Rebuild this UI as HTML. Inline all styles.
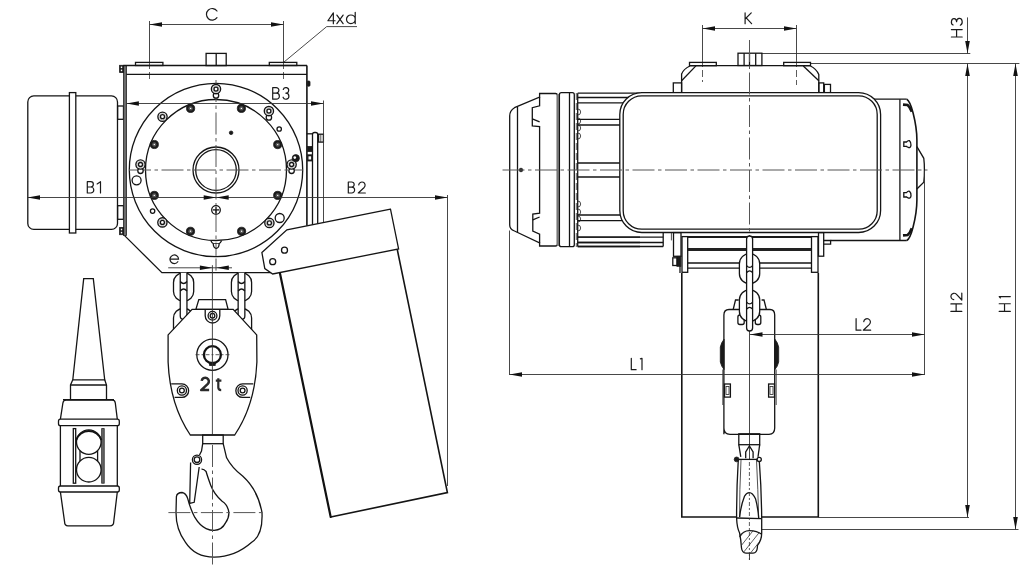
<!DOCTYPE html>
<html><head><meta charset="utf-8"><style>
html,body{margin:0;padding:0;background:#fff;}
svg{display:block;}
text{font-family:"Liberation Sans",sans-serif;fill:#1a1a1a;}
.o{stroke:#141414;stroke-width:1.3;fill:none;}
.of{stroke:#141414;stroke-width:1.3;fill:#fff;}
.o2{stroke:#141414;stroke-width:1.6;fill:none;}
.d{stroke:#333;stroke-width:0.9;fill:none;}
.c{stroke:#555;stroke-width:1;fill:none;stroke-dasharray:22 3.5 3.5 3.5;}
.c2{stroke:#333;stroke-width:0.8;fill:none;stroke-dasharray:7 3;}
.n{stroke:none;}
.gl{fill:none;stroke:#1a1a1a;stroke-width:1.2;vector-effect:non-scaling-stroke;stroke-linecap:round;stroke-linejoin:round;}
.gl2{fill:none;stroke:#1a1a1a;stroke-width:1.2;stroke-linecap:round;}
.fg2{stroke:#777;stroke-width:2;fill:none;}
.bt{fill:#444;stroke:#111;stroke-width:0.7;}
.c3{stroke:#333;stroke-width:0.8;fill:none;stroke-dasharray:4 2 2 2;}
.ofw{fill:#fff;stroke:#141414;stroke-width:1.4;}
.ofk{fill:#fff;stroke:#141414;stroke-width:1.3;}
.fk{fill:#1a1a1a;stroke:#1a1a1a;stroke-width:0.8;}
.fw{fill:#fff;stroke:none;}
.fg{fill:#6a6a6a;stroke:#222;stroke-width:0.8;}
.t{stroke:#222;stroke-width:0.8;fill:none;}
.ah{fill:#111;stroke:none;}
</style></head><body>
<svg width="1036" height="570" viewBox="0 0 1036 570">
<defs><clipPath id="hc"><path d="M739.6,536.8 Q743,530.6 749.4,530.6 Q757,530.6 761.7,534.3 L761.7,535 Q760,540 757.5,545.4 L757.3,548 Q757,552.7 753,553.2 L746,553.2 Q742,552.7 741.5,548 Q741,540 739.6,536.8 Z"/></clipPath></defs><rect width="1036" height="570" fill="#fff"/>
<line class="d" x1="149.5" y1="24.5" x2="283.5" y2="24.5"/>
<polygon class="ah" points="149.5,24.5 162.0,22.2 162.0,26.8"/>
<polygon class="ah" points="283.5,24.5 271.0,26.8 271.0,22.2"/>
<line class="d" x1="149.5" y1="21.0" x2="149.5" y2="62.0"/>
<line class="d" x1="283.5" y1="21.0" x2="283.5" y2="62.0"/>
<line class="c2" x1="149.5" y1="62.0" x2="149.5" y2="82.0"/>
<line class="c2" x1="283.5" y1="62.0" x2="283.5" y2="82.0"/>
<path class="gl2" d="M217.0,11.0 A5.8,5.85 0 1 0 217.0,17.7" />
<line class="d" x1="326.7" y1="26.6" x2="357.0" y2="26.6"/>
<line class="d" x1="326.7" y1="26.6" x2="283.6" y2="62.4"/>
<path class="gl" transform="translate(327.90,23.70) scale(10.9)" d="M0.5,0 L0.5,-1 L0,-0.27 L0.66,-0.27"/>
<path class="gl" transform="translate(336.90,23.70) scale(10.9)" d="M0,-0.79 L0.57,0 M0.57,-0.79 L0,0"/>
<path class="gl" transform="translate(346.50,23.70) scale(10.9)" d="M0.8,-1.05 L0.8,0 M0.8,-0.4 A0.4,0.4 0 1 0 0,-0.4 A0.4,0.4 0 1 0 0.8,-0.4"/>
<rect class="o" x="27.8" y="95.9" width="89.7" height="133.5" rx="6" />
<rect class="of" x="69.4" y="92.6" width="6.4" height="140.4" rx="0" />
<rect class="o" x="117.6" y="106.0" width="5.9" height="13.3" rx="0" />
<rect class="o" x="117.6" y="205.7" width="5.9" height="13.6" rx="0" />
<rect class="fg" x="123.5" y="65.5" width="3.0" height="170.0" rx="0" />
<rect class="fk" x="119.6" y="65.3" width="4.0" height="7.2" rx="0" />
<rect class="fw" x="120.8" y="66.5" width="1.4" height="1.6" rx="0" />
<rect class="fw" x="120.8" y="69.6" width="1.4" height="1.6" rx="0" />
<rect class="fk" x="119.6" y="227.5" width="4.0" height="7.2" rx="0" />
<rect class="fw" x="120.8" y="228.7" width="1.4" height="1.6" rx="0" />
<rect class="fw" x="120.8" y="231.8" width="1.4" height="1.6" rx="0" />
<line class="o" x1="123.5" y1="65.5" x2="307.0" y2="65.5"/>
<line class="o" x1="126.4" y1="74.4" x2="307.0" y2="74.4"/>
<line class="o2" x1="306.9" y1="65.5" x2="306.9" y2="225.8"/>
<rect class="o" x="135.5" y="62.4" width="27.4" height="3.1" rx="0" />
<rect class="o" x="269.3" y="62.4" width="27.5" height="3.1" rx="0" />
<rect class="o" x="206.1" y="53.4" width="20.1" height="12.2" rx="0" />
<line class="o" x1="216.2" y1="53.4" x2="216.2" y2="65.5"/>
<polyline class="o" points="124.6,235.6 161.9,272.7 272.7,272.7"/>
<path class="o" d="M312.5,225.2 L312.5,134.5 Q312.5,132.5 314.5,132.5 L315.7,132.5 Q317.7,132.5 317.7,134.5 L317.7,224.2" />
<line class="o" x1="306.8" y1="133.8" x2="312.5" y2="133.8"/>
<rect class="fk" x="307.2" y="81.0" width="2.8" height="5.2" rx="1" />
<rect class="o" x="318.6" y="134.2" width="4.8" height="7.9" rx="0" />
<line class="t" x1="320.8" y1="134.2" x2="320.8" y2="142.1"/>
<rect class="fk" x="307.5" y="146.5" width="4.5" height="5.0" rx="0" />
<rect class="fk" x="307.5" y="154.8" width="4.5" height="6.2" rx="0" />
<rect class="fw" x="308.5" y="156.3" width="2.6" height="3.2" rx="0" />
<circle class="o" cx="216.0" cy="170.0" r="86.7" />
<circle class="o" cx="216.0" cy="170.0" r="70.5" />
<circle class="o" cx="216.0" cy="170.0" r="23.0" />
<circle class="o" cx="216.0" cy="170.0" r="20.3" />
<line class="c" x1="216.0" y1="80.0" x2="216.0" y2="256.0"/>
<line class="d" x1="216.0" y1="258.5" x2="216.0" y2="270.6"/>
<line class="c" x1="129.0" y1="170.0" x2="303.0" y2="170.0"/>
<circle class="fk" cx="190.6" cy="108.4" r="4.1" />
<circle class="n" cx="190.6" cy="108.4" r="2.2" style="fill:#555"/>
<circle class="fw" cx="190.6" cy="108.4" r="0.7" />
<circle class="fk" cx="241.4" cy="108.4" r="4.1" />
<circle class="n" cx="241.4" cy="108.4" r="2.2" style="fill:#555"/>
<circle class="fw" cx="241.4" cy="108.4" r="0.7" />
<circle class="fk" cx="154.3" cy="144.5" r="4.1" />
<circle class="n" cx="154.3" cy="144.5" r="2.2" style="fill:#555"/>
<circle class="fw" cx="154.3" cy="144.5" r="0.7" />
<circle class="fk" cx="277.7" cy="144.6" r="4.1" />
<circle class="n" cx="277.7" cy="144.6" r="2.2" style="fill:#555"/>
<circle class="fw" cx="277.7" cy="144.6" r="0.7" />
<circle class="fk" cx="154.3" cy="195.4" r="4.1" />
<circle class="n" cx="154.3" cy="195.4" r="2.2" style="fill:#555"/>
<circle class="fw" cx="154.3" cy="195.4" r="0.7" />
<circle class="fk" cx="277.7" cy="195.4" r="4.1" />
<circle class="n" cx="277.7" cy="195.4" r="2.2" style="fill:#555"/>
<circle class="fw" cx="277.7" cy="195.4" r="0.7" />
<circle class="fk" cx="190.5" cy="231.3" r="4.1" />
<circle class="n" cx="190.5" cy="231.3" r="2.2" style="fill:#555"/>
<circle class="fw" cx="190.5" cy="231.3" r="0.7" />
<circle class="fk" cx="241.6" cy="231.3" r="4.1" />
<circle class="n" cx="241.6" cy="231.3" r="2.2" style="fill:#555"/>
<circle class="fw" cx="241.6" cy="231.3" r="0.7" />
<circle class="ofw" cx="162.5" cy="116.7" r="4.6" />
<circle class="n" cx="162.5" cy="116.7" r="3.2" style="fill:none;stroke:#bbb;stroke-width:1"/>
<circle class="o" cx="162.5" cy="116.7" r="2.0" />
<circle class="ofw" cx="162.4" cy="222.4" r="4.6" />
<circle class="n" cx="162.4" cy="222.4" r="3.2" style="fill:none;stroke:#bbb;stroke-width:1"/>
<circle class="o" cx="162.4" cy="222.4" r="2.0" />
<circle class="ofw" cx="269.4" cy="222.9" r="4.6" />
<circle class="n" cx="269.4" cy="222.9" r="3.2" style="fill:none;stroke:#bbb;stroke-width:1"/>
<circle class="o" cx="269.4" cy="222.9" r="2.0" />
<circle class="ofk" cx="216.0" cy="95.4" r="2.7" />
<circle class="ofw" cx="216.0" cy="89.1" r="4.6" />
<circle class="n" cx="216.0" cy="89.1" r="3.2" style="fill:none;stroke:#bbb;stroke-width:1"/>
<circle class="o" cx="216.0" cy="89.1" r="2.0" />
<circle class="ofk" cx="268.9" cy="117.4" r="2.7" />
<circle class="ofw" cx="268.9" cy="111.1" r="4.6" />
<circle class="n" cx="268.9" cy="111.1" r="3.2" style="fill:none;stroke:#bbb;stroke-width:1"/>
<circle class="o" cx="268.9" cy="111.1" r="2.0" />
<circle class="ofk" cx="140.5" cy="170.8" r="2.7" />
<circle class="ofw" cx="140.5" cy="164.5" r="4.6" />
<circle class="n" cx="140.5" cy="164.5" r="3.2" style="fill:none;stroke:#bbb;stroke-width:1"/>
<circle class="o" cx="140.5" cy="164.5" r="2.0" />
<circle class="ofk" cx="291.6" cy="170.8" r="2.7" />
<circle class="ofw" cx="291.6" cy="164.5" r="4.6" />
<circle class="n" cx="291.6" cy="164.5" r="3.2" style="fill:none;stroke:#bbb;stroke-width:1"/>
<circle class="o" cx="291.6" cy="164.5" r="2.0" />
<circle class="fk" cx="295.8" cy="158.2" r="3.6" />
<circle class="fw" cx="294.8" cy="157.6" r="1.3" />
<path class="o" d="M210.8,240.4 Q212,243 213.2,243.5 Q213.5,248.3 216.2,248.3 Q218.9,248.3 219.2,243.5 Q220.4,243 221.6,240.4" />
<line class="t" x1="213.3" y1="243.5" x2="219.1" y2="243.5"/>
<circle class="o" cx="136.6" cy="180.3" r="4.5" />
<circle class="o" cx="279.7" cy="218.0" r="4.5" />
<circle class="o" cx="279.2" cy="129.0" r="2.2" />
<circle class="o" cx="152.6" cy="211.1" r="2.2" />
<circle class="fk" cx="231.1" cy="132.8" r="1.8" />
<circle class="o" cx="216.0" cy="209.9" r="4.3" />
<line class="o" x1="213.0" y1="209.9" x2="219.0" y2="209.9"/>
<line class="o" x1="216.0" y1="206.9" x2="216.0" y2="212.9"/>
<line class="d" x1="126.4" y1="103.5" x2="323.5" y2="103.5"/>
<polygon class="ah" points="126.4,103.5 138.9,101.2 138.9,105.8"/>
<polygon class="ah" points="323.5,103.5 311.0,105.8 311.0,101.2"/>
<line class="d" x1="323.5" y1="100.5" x2="323.5" y2="223.0"/>
<path class="gl" transform="translate(272.70,99.20) scale(11.6)" d="M0,0 L0,-1 L0.3,-1 A0.235,0.235 0 0 1 0.3,-0.53 L0,-0.53 M0.3,-0.53 L0.31,-0.53 A0.265,0.265 0 0 1 0.31,0 L0,0"/>
<path class="gl" transform="translate(282.40,99.20) scale(11.6)" d="M0.075,-0.842 A0.24,0.24 0 1 1 0.3,-0.52 A0.26,0.26 0 1 1 0.056,-0.171"/>
<line class="d" x1="27.5" y1="197.5" x2="447.5" y2="197.5"/>
<polygon class="ah" points="27.5,197.5 40.0,195.2 40.0,199.8"/>
<polygon class="ah" points="216.2,197.5 203.7,199.8 203.7,195.2"/>
<polygon class="ah" points="216.2,197.5 228.7,195.2 228.7,199.8"/>
<polygon class="ah" points="447.5,197.5 435.0,199.8 435.0,195.2"/>
<line class="d" x1="447.5" y1="195.0" x2="447.5" y2="486.0"/>
<path class="gl" transform="translate(87.30,193.00) scale(11.3)" d="M0,0 L0,-1 L0.3,-1 A0.235,0.235 0 0 1 0.3,-0.53 L0,-0.53 M0.3,-0.53 L0.31,-0.53 A0.265,0.265 0 0 1 0.31,0 L0,0"/>
<path class="gl" transform="translate(100.50,193.00) scale(11.3)" d="M0,0 L0,-1 L-0.3,-0.8"/>
<path class="gl" transform="translate(348.30,193.00) scale(11)" d="M0,0 L0,-1 L0.3,-1 A0.235,0.235 0 0 1 0.3,-0.53 L0,-0.53 M0.3,-0.53 L0.31,-0.53 A0.265,0.265 0 0 1 0.31,0 L0,0"/>
<path class="gl" transform="translate(358.30,193.00) scale(11)" d="M0.04,-0.74 A0.29,0.29 0 1 1 0.535,-0.505 L0,0 L0.64,0"/>
<line class="d" x1="168.2" y1="267.8" x2="232.0" y2="267.8"/>
<polygon class="ah" points="212.4,267.8 199.9,270.1 199.9,265.5"/>
<polygon class="ah" points="216.3,267.8 228.8,265.5 228.8,270.1"/>
<path class="gl" transform="translate(169.90,263.60) scale(11)" d="M0.01,-0.4 L0.79,-0.4 A0.39,0.39 0 1 0 0.72,-0.17"/>
<polyline class="o2" points="330.7,517.0 447.4,492.6 397.2,249.2"/>
<line x1="280" y1="273.5" x2="330.7" y2="517" stroke="#111" stroke-width="2.2" stroke-linecap="round"/>
<polygon class="of" points="390.5,209.2 286.9,229.8 261.9,252.6 264.8,268.6 272.7,274.0 398.6,248.9"/>
<circle class="o" cx="284.5" cy="250.2" r="3.0" />
<circle class="o" cx="272.7" cy="261.7" r="3.0" />
<rect class="of" x="173.5" y="308.5" width="20.2" height="30.0" rx="9.5" />
<rect class="of" x="173.5" y="272.9" width="20.2" height="28.2" rx="9.5" />
<path class="of" d="M180.25,272.7 L180.25,316 A3.35,3.35 0 0 0 186.95,316 L186.95,272.7" />
<path class="o" d="M180.25,281.5 Q183.6,285.5 186.95,281.5 M180.25,291 Q183.6,287 186.95,291" />
<rect class="of" x="231.4" y="308.5" width="20.2" height="30.0" rx="9.5" />
<rect class="of" x="231.4" y="272.9" width="20.2" height="28.2" rx="9.5" />
<path class="of" d="M238.15,272.7 L238.15,316 A3.35,3.35 0 0 0 244.85,316 L244.85,272.7" />
<path class="o" d="M238.15,281.5 Q241.5,285.5 244.85,281.5 M238.15,291 Q241.5,287 244.85,291" />
<polygon class="of" points="198.8,299.6 225.6,299.6 228.1,309.4 195.9,309.4"/>
<path class="of" d="M192.1,309.4 L233.2,309.4 L256.7,334.9 L256.9,362 Q255,405 234.7,435 L190.3,435 Q170,405 168.1,362 L168.1,334.9 Z" />
<path class="o" d="M205.2,309.4 L205.2,315.7 A7.3,7.3 0 0 0 219.8,315.7 L219.8,309.4" />
<circle class="o" cx="212.5" cy="315.7" r="4.4" />
<circle class="o" cx="212.5" cy="315.7" r="2.3" />
<circle class="o" cx="212.4" cy="354.7" r="15.6" />
<circle cx="212.4" cy="354.7" r="8.5" fill="none" stroke="#111" stroke-width="2.3"/>
<rect class="fk" x="209.6" y="362.3" width="5.6" height="3.2" rx="0" />
<line class="c3" x1="195.5" y1="354.7" x2="229.5" y2="354.7"/>
<path class="o" d="M171.2,383.9 L181.9,383.9 A6.75,6.75 0 0 1 181.9,397.4 L174.6,397.4" />
<path class="o" d="M253.3,383.9 L242.6,383.9 A6.75,6.75 0 0 0 242.6,397.4 L250.2,397.4" />
<circle class="o" cx="181.9" cy="390.5" r="4.6" />
<circle class="o" cx="181.9" cy="390.5" r="2.4" />
<circle class="o" cx="242.6" cy="390.5" r="4.6" />
<circle class="o" cx="242.6" cy="390.5" r="2.4" />
<path transform="translate(201.2,390.1) scale(12.4)" d="M0.04,-0.74 A0.29,0.29 0 1 1 0.535,-0.505 L0,0 L0.64,0" style="fill:none;stroke:#2a2a2a;stroke-width:2.5;vector-effect:non-scaling-stroke;stroke-linejoin:round"/>
<path d="M218.3,378.2 L218.3,387.6 Q218.3,390.1 221.2,390.1 M215.8,380.6 L221.4,380.6" style="fill:none;stroke:#2a2a2a;stroke-width:2.2"/>
<line class="d" x1="212.4" y1="265.2" x2="212.4" y2="435.0"/>
<rect class="o" x="202.7" y="435.0" width="20.5" height="8.7" rx="0" />
<path class="o" d="M223.2,443.7 L226.6,457.8 Q232,468 242.6,476.1 Q258,490 262,512.6 Q263,535 251.7,542.3 Q235,557.1 214.1,557.1 Q195,557 185.5,542.3 Q176,530 176,512.6 L176.4,496.6 Q177,492.5 182.1,492.5 Q186,493 187.8,498.9 Q190,508 194.7,517.2 Q200,526 206.1,528.6 Q210,530.4 214.1,530.4 Q222,530 225.5,522.9 Q229,518 228.9,512.6 Q228,505 222.1,501.2 Q214,494 210.7,485.2 Q207,475 206.1,471.5 Q204,469 201.5,469.2" />
<path class="o" d="M202.7,443.7 L201.5,451 L199.5,455" />
<polyline class="o" points="190.6,462.4 189.7,503.5 194.2,502.3 199.2,467.0"/>
<circle class="of" cx="197.0" cy="459.7" r="4.6" />
<circle class="o" cx="197.0" cy="459.7" r="2.8" />
<line class="c" x1="212.5" y1="445.0" x2="212.5" y2="566.0"/>
<line class="c" x1="168.4" y1="512.6" x2="265.4" y2="512.6"/>
<polygon class="o" points="83.7,278.7 93.3,278.7 104.7,379.8 72.8,379.8"/>
<polyline class="o" points="72.8,379.8 70.5,385.0 70.5,399.6"/>
<polyline class="o" points="104.7,379.8 106.5,385.0 106.5,399.6"/>
<line class="o" x1="70.5" y1="385.0" x2="106.5" y2="385.0"/>
<path class="o" d="M60.4,419.2 L62.9,403 Q63.3,400.2 66,400.2 L112.3,400.2 Q115,400.2 115.3,403 L117.3,419.2" />
<line class="o" x1="63.0" y1="399.6" x2="114.0" y2="399.6"/>
<rect class="o" x="58.5" y="419.2" width="60.8" height="6.5" rx="2" />
<line class="o" x1="60.4" y1="425.7" x2="60.4" y2="486.0"/>
<line class="o" x1="117.3" y1="425.7" x2="117.3" y2="486.0"/>
<rect class="o" x="58.5" y="486.0" width="60.8" height="6.0" rx="2" />
<path class="o" d="M60.4,492 L64.6,522 Q64.6,525.8 68,525.8 L110,525.8 Q113.7,525.8 113.7,522 L117.3,492" />
<rect class="o" x="73.3" y="428.6" width="2.4" height="54.6" rx="0" />
<rect class="fg" x="101.7" y="428.6" width="2.5" height="54.6" rx="0" />
<circle class="o" cx="88.8" cy="442.1" r="12.3" />
<circle class="o" cx="88.8" cy="469.7" r="12.3" />
<path class="o" d="M76.2,440 A13.3,13.3 0 0 1 101.4,440" style="stroke-width:2"/>
<line class="o" x1="80.0" y1="450.7" x2="80.0" y2="461.1"/>
<line class="o" x1="97.6" y1="450.7" x2="97.6" y2="461.1"/>
<line class="d" x1="702.5" y1="28.5" x2="796.5" y2="28.5"/>
<polygon class="ah" points="702.5,28.5 715.0,26.2 715.0,30.8"/>
<polygon class="ah" points="796.5,28.5 784.0,30.8 784.0,26.2"/>
<line class="d" x1="702.5" y1="25.0" x2="702.5" y2="60.0"/>
<line class="d" x1="796.5" y1="25.0" x2="796.5" y2="60.0"/>
<line class="c2" x1="702.5" y1="60.0" x2="702.5" y2="82.0"/>
<line class="c2" x1="796.5" y1="60.0" x2="796.5" y2="85.0"/>
<path class="gl" transform="translate(745.10,23.70) scale(10.8)" d="M0,0 L0,-1 M0.57,-1 L0,-0.44 M0.1,-0.54 L0.6,0"/>
<line class="d" x1="761.6" y1="53.5" x2="970.3" y2="53.5"/>
<line class="d" x1="810.5" y1="63.5" x2="1019.4" y2="63.5"/>
<line class="d" x1="967.5" y1="17.4" x2="967.5" y2="53.5"/>
<polygon class="ah" points="967.5,53.5 965.2,41.0 969.8,41.0"/>
<line class="d" x1="967.5" y1="63.5" x2="967.5" y2="517.5"/>
<polygon class="ah" points="967.5,63.5 969.8,76.0 965.2,76.0"/>
<polygon class="ah" points="967.5,517.5 965.2,505.0 969.8,505.0"/>
<line class="d" x1="1015.5" y1="63.5" x2="1015.5" y2="529.5"/>
<polygon class="ah" points="1015.5,63.5 1017.8,76.0 1013.2,76.0"/>
<polygon class="ah" points="1015.5,529.5 1013.2,517.0 1017.8,517.0"/>
<path class="gl" transform="translate(962.20,37.00) rotate(-90) scale(10.8)" d="M0,0 L0,-1 M0.69,0 L0.69,-1 M0,-0.52 L0.69,-0.52"/>
<path class="gl" transform="translate(962.20,25.80) rotate(-90) scale(10.8)" d="M0.075,-0.842 A0.3,0.24 0 1 1 0.38,-0.52 A0.33,0.26 0 1 1 0.056,-0.171"/>
<path class="gl" transform="translate(961.80,311.40) rotate(-90) scale(10.9)" d="M0,0 L0,-1 M0.69,0 L0.69,-1 M0,-0.52 L0.69,-0.52"/>
<path class="gl" transform="translate(961.80,300.00) rotate(-90) scale(10.9)" d="M0.04,-0.74 A0.29,0.29 0 1 1 0.535,-0.505 L0,0 L0.64,0"/>
<path class="gl" transform="translate(1010.30,311.40) rotate(-90) scale(11.1)" d="M0,0 L0,-1 M0.69,0 L0.69,-1 M0,-0.52 L0.69,-0.52"/>
<path class="gl" transform="translate(1010.30,296.60) rotate(-90) scale(11.1)" d="M0,0 L0,-1 L-0.12,-0.9"/>
<line class="o" x1="689.5" y1="65.7" x2="810.5" y2="65.7"/>
<rect class="o" x="738.0" y="53.2" width="23.9" height="12.3" rx="0" />
<line class="o" x1="744.1" y1="53.2" x2="744.1" y2="65.5"/>
<line class="o" x1="749.5" y1="53.2" x2="749.5" y2="65.5"/>
<line class="o" x1="755.7" y1="53.2" x2="755.7" y2="65.5"/>
<rect class="o" x="689.5" y="62.4" width="26.8" height="3.3" rx="0" />
<rect class="o" x="783.7" y="62.4" width="26.8" height="3.3" rx="0" />
<path class="o" d="M689.9,66 Q683.5,69 681.6,74 L681.6,92.6" />
<line class="o" x1="695.9" y1="65.9" x2="681.6" y2="80.7"/>
<path class="o" d="M810.5,66 Q816.5,69 818.8,74.6 L818.8,92.6" />
<line class="o" x1="803.3" y1="66.0" x2="818.8" y2="80.7"/>
<rect class="o" x="673.3" y="82.9" width="8.3" height="9.7" rx="0" />
<rect class="o" x="818.8" y="82.9" width="4.9" height="9.7" rx="0" />
<rect class="o" x="824.4" y="84.4" width="6.1" height="8.2" rx="0" />
<line class="o" x1="577.7" y1="93.2" x2="640.0" y2="93.2"/>
<line class="o" x1="577.7" y1="97.5" x2="640.0" y2="97.5"/>
<line class="o" x1="577.7" y1="102.9" x2="640.0" y2="102.9"/>
<line class="o" x1="577.7" y1="119.3" x2="640.0" y2="119.3"/>
<line class="o" x1="577.7" y1="125.0" x2="640.0" y2="125.0"/>
<line class="o" x1="577.7" y1="163.0" x2="640.0" y2="163.0"/>
<line class="o" x1="577.7" y1="177.0" x2="640.0" y2="177.0"/>
<line class="o" x1="577.7" y1="215.0" x2="640.0" y2="215.0"/>
<line class="o" x1="577.7" y1="220.7" x2="640.0" y2="220.7"/>
<line class="o" x1="577.7" y1="237.1" x2="640.0" y2="237.1"/>
<line class="o" x1="577.7" y1="242.5" x2="640.0" y2="242.5"/>
<line class="o" x1="577.7" y1="246.5" x2="640.0" y2="246.5"/>
<line class="o" x1="577.7" y1="237.1" x2="663.2" y2="237.1"/>
<line class="o" x1="577.7" y1="242.5" x2="663.2" y2="242.5"/>
<line class="o" x1="577.7" y1="246.5" x2="663.2" y2="246.5"/>
<line class="o" x1="663.2" y1="232.5" x2="663.2" y2="246.5"/>
<line class="o" x1="577.7" y1="93.2" x2="577.7" y2="246.5"/>
<line class="c2" x1="576.3" y1="93.0" x2="576.3" y2="247.0"/>
<path class="t" d="M577.7,109 A3,3 0 0 1 577.7,115" />
<path class="t" d="M577.7,118 A3,3 0 0 1 577.7,124" />
<path class="t" d="M577.7,125 A3,3 0 0 1 577.7,131" />
<path class="t" d="M577.7,133 A3,3 0 0 1 577.7,139" />
<path class="t" d="M577.7,201 A3,3 0 0 1 577.7,207" />
<path class="t" d="M577.7,209 A3,3 0 0 1 577.7,215" />
<path class="t" d="M577.7,216 A3,3 0 0 1 577.7,222" />
<path class="t" d="M577.7,225 A3,3 0 0 1 577.7,231" />
<line class="o" x1="860.0" y1="99.2" x2="906.8" y2="99.2"/>
<line class="o" x1="899.9" y1="99.2" x2="899.9" y2="240.5"/>
<path class="o" d="M906.8,99.2 Q910,101 913.1,113 Q916.9,128 916.9,140 L916.9,200 Q916.9,212 913.1,227 Q910,239 906.8,240.5" style="stroke-width:1.6"/>
<path class="o" d="M916.9,146.7 L923.8,158.3 Q924.5,164 924.4,170 Q924.5,176 923.8,182.2 L916.9,189" />
<path class="o" d="M903,104.6 L907.6,105 Q910,107 911.8,111.8" style="stroke-width:2.6"/>
<path class="o" d="M903,235.4 L907.6,235 Q910,233 911.8,228.2" style="stroke-width:2.6"/>
<path class="o" d="M903.8,142.0 L906.5,142.0 Q908,140.2 909.5,140.7 Q911.2,142.2 911,145.2 Q910.5,148.0 908.5,147.5 Q906.5,146.7 906.5,146.39999999999998 L903.8,146.39999999999998 Z" />
<path class="o" d="M903.8,192.60000000000002 L906.5,192.60000000000002 Q908,190.8 909.5,191.3 Q911.2,192.8 911,195.8 Q910.5,198.60000000000002 908.5,198.10000000000002 Q906.5,197.3 906.5,197.0 L903.8,197.0 Z" />
<rect class="of" x="619.8" y="92.6" width="260.8" height="139.9" rx="22" />
<rect class="o" x="623.2" y="95.9" width="254.0" height="133.3" rx="18.5" />
<line class="c" x1="749.5" y1="40.0" x2="749.5" y2="236.0"/>
<path class="of" d="M539.6,93.5 L555.4,93.5 Q557.4,93.5 557.4,95.5 L557.4,244 Q557.4,246 555.4,246 L539.6,246 L539.6,242.8 L514.5,231 Q509.7,229.3 509.7,225 L509.7,116 Q509.7,110.5 514.5,107.7 L539.6,97.1 Z" />
<line class="fg2" x1="557.8" y1="94.0" x2="557.8" y2="246.0"/>
<path class="o" d="M539.6,97.1 L539.6,105.8 L532.3,107.7 L532.3,126 L539.6,126.5 L539.6,213.2 L532.8,214 L532.8,231.1 L539.6,234.1 L539.6,243" />
<line class="o" x1="532.3" y1="118.8" x2="539.6" y2="121.8"/>
<line class="o" x1="532.8" y1="219.9" x2="539.6" y2="217.0"/>
<line class="o" x1="517.5" y1="107.0" x2="517.5" y2="232.6"/>
<rect class="of" x="559.4" y="92.7" width="14.9" height="154.0" rx="2" />
<line class="o" x1="569.5" y1="92.7" x2="569.5" y2="246.7"/>
<circle class="fk" cx="521.0" cy="170.0" r="1.8" />
<line class="c" x1="502.5" y1="170.0" x2="927.5" y2="170.0"/>
<rect class="o" x="673.5" y="232.6" width="7.5" height="23.7" rx="0" />
<line class="t" x1="671.4" y1="232.6" x2="671.4" y2="240.4"/>
<rect class="fk" x="676.9" y="256.3" width="4.0" height="10.0" rx="0" />
<line class="o" x1="680.0" y1="266.0" x2="680.0" y2="273.0"/>
<rect class="o" x="672.8" y="257.8" width="4.3" height="7.7" rx="0" />
<rect class="o" x="682.0" y="236.6" width="5.7" height="35.7" rx="0" />
<rect class="o" x="811.5" y="236.6" width="6.5" height="35.7" rx="0" />
<rect class="o" x="818.5" y="232.6" width="5.2" height="23.6" rx="0" />
<polyline class="o" points="823.7,240.5 830.6,240.5 830.6,244.2 823.7,244.2"/>
<line class="o" x1="830.6" y1="240.5" x2="906.8" y2="240.5"/>
<line x1="687.9" y1="236.9" x2="811.2" y2="236.9" stroke="#1a1a1a" stroke-width="2"/>
<line x1="687.9" y1="249.5" x2="811.2" y2="249.5" stroke="#222" stroke-width="3"/>
<line class="o" x1="687.9" y1="263.0" x2="811.2" y2="263.0"/>
<line class="o" x1="687.9" y1="268.1" x2="811.2" y2="268.1"/>
<polyline class="o2" points="681.8,273.0 681.8,517.0 818.3,517.0 818.3,273.0"/>
<line class="d" x1="818.3" y1="517.5" x2="969.0" y2="517.5"/>
<line class="d" x1="759.6" y1="529.5" x2="1018.5" y2="529.5"/>
<path class="of" d="M723.9,434.3 L723.9,315 Q723.9,309.5 729,309.5 L770,309.5 Q774.7,309.5 774.7,315 L774.7,428 Q774.7,434.3 769,434.3 L730,434.3 Q723.9,434.3 723.9,428 Z" />
<line class="d" x1="749.5" y1="331.0" x2="749.5" y2="560.0"/>
<path class="fk" d="M724.1,339.2 Q721.5,342 720.3,347 L720.3,362 Q721.5,367 724.1,369.5 Z" />
<path class="fk" d="M774.9,339.2 Q777.5,342 778.7,347 L778.7,362 Q777.5,367 774.9,369.5 Z" />
<line class="t" x1="722.8" y1="369.5" x2="722.8" y2="405.0"/>
<line class="t" x1="776.2" y1="369.5" x2="776.2" y2="405.0"/>
<rect class="o" x="724.5" y="384.0" width="5.9" height="13.1" rx="0" />
<rect class="t" x="726.0" y="386.5" width="3.0" height="8.0" rx="0" />
<rect class="o" x="768.6" y="384.0" width="5.9" height="13.1" rx="0" />
<rect class="t" x="770.0" y="386.5" width="3.0" height="8.0" rx="0" />
<rect class="of" x="737.9" y="315.0" width="6.3" height="9.5" rx="2" />
<rect class="of" x="755.3" y="315.0" width="5.5" height="9.5" rx="2" />
<rect class="o" x="738.8" y="433.8" width="20.9" height="10.9" rx="0" />
<polyline class="o" points="738.8,444.7 740.8,456.9"/>
<polyline class="o" points="759.7,444.7 758.0,456.9"/>
<polyline class="o" points="745.7,458.2 745.7,452.0 749.4,445.9 753.1,452.0 753.1,458.2"/>
<path class="of" d="M738.3,459.4 Q736.5,490 736.6,518.3 Q737,528 739.6,533 Q741,540 741.5,548 Q742,552.7 746,553.2 L753,553.2 Q757,552.7 757.3,548 L757.5,545.4 Q761.7,540 761.7,533 L761.7,518.3 Q761.5,490 759.2,459.4" />
<path class="t" d="M741,460 Q739.5,490 739.6,517.1" />
<path class="t" d="M756.5,460 Q758,490 758.7,518.3" />
<line class="o" x1="736.6" y1="459.4" x2="759.5" y2="459.4"/>
<path class="o" d="M739.6,517.1 Q741,505 744.5,496.2 Q746.5,492.6 749.4,492.6 Q752.5,492.6 755.5,498.7 Q758,508 758.7,518.3" />
<line class="o" x1="737.0" y1="518.0" x2="761.5" y2="518.6"/>
<path class="o" d="M739.6,536.8 Q743,530.6 749.4,530.6 Q757,530.6 761.7,534.3" />
<g clip-path="url(#hc)"><path d="M733,556 L756,527 M739,558 L762,529 M745,560 L768,531 M727,553 L750,524" stroke="#333" stroke-width="0.8"/></g>
<circle class="fk" cx="736.6" cy="459.4" r="2.4" />
<circle class="of" cx="759.2" cy="459.4" r="2.1" />
<line class="c3" x1="749.4" y1="462.0" x2="749.4" y2="560.0"/>
<rect class="of" x="739.4" y="253.7" width="20.3" height="30.0" rx="10" />
<rect class="of" x="739.4" y="289.8" width="20.3" height="31.6" rx="10" />
<rect class="of" x="746.6" y="236.0" width="6.0" height="95.0" rx="3" />
<path class="o" d="M746.6,265.7 Q749.6,269.2 752.6,265.7 M746.6,272.7 Q749.6,269.2 752.6,272.7" />
<path class="o" d="M746.6,302.1 Q749.6,305.6 752.6,302.1 M746.6,309.1 Q749.6,305.6 752.6,309.1" />
<polyline class="o" points="733.2,309.5 735.5,300.0 738.7,300.0"/>
<polyline class="o" points="761.6,300.0 764.0,300.0 766.4,309.5"/>
<line class="d" x1="509.5" y1="230.5" x2="509.5" y2="375.0"/>
<line class="d" x1="924.5" y1="170.5" x2="924.5" y2="375.0"/>
<line class="d" x1="509.5" y1="374.5" x2="924.5" y2="374.5"/>
<polygon class="ah" points="509.5,374.5 522.0,372.2 522.0,376.8"/>
<polygon class="ah" points="924.5,374.5 912.0,376.8 912.0,372.2"/>
<line class="d" x1="750.0" y1="334.5" x2="924.5" y2="334.5"/>
<polygon class="ah" points="750.0,334.5 762.5,332.2 762.5,336.8"/>
<polygon class="ah" points="924.5,334.5 912.0,336.8 912.0,332.2"/>
<path class="gl" transform="translate(631.30,369.70) scale(11.4)" d="M0,-1 L0,0 L0.42,0"/>
<path class="gl" transform="translate(642.00,369.70) scale(11.4)" d="M0,0 L0,-1 L-0.14,-0.95"/>
<path class="gl" transform="translate(856.10,330.20) scale(11.5)" d="M0,-1 L0,0 L0.42,0"/>
<path class="gl" transform="translate(863.30,330.20) scale(11.5)" d="M0.04,-0.74 A0.29,0.29 0 1 1 0.535,-0.505 L0,0 L0.64,0"/>
</svg>
</body></html>
